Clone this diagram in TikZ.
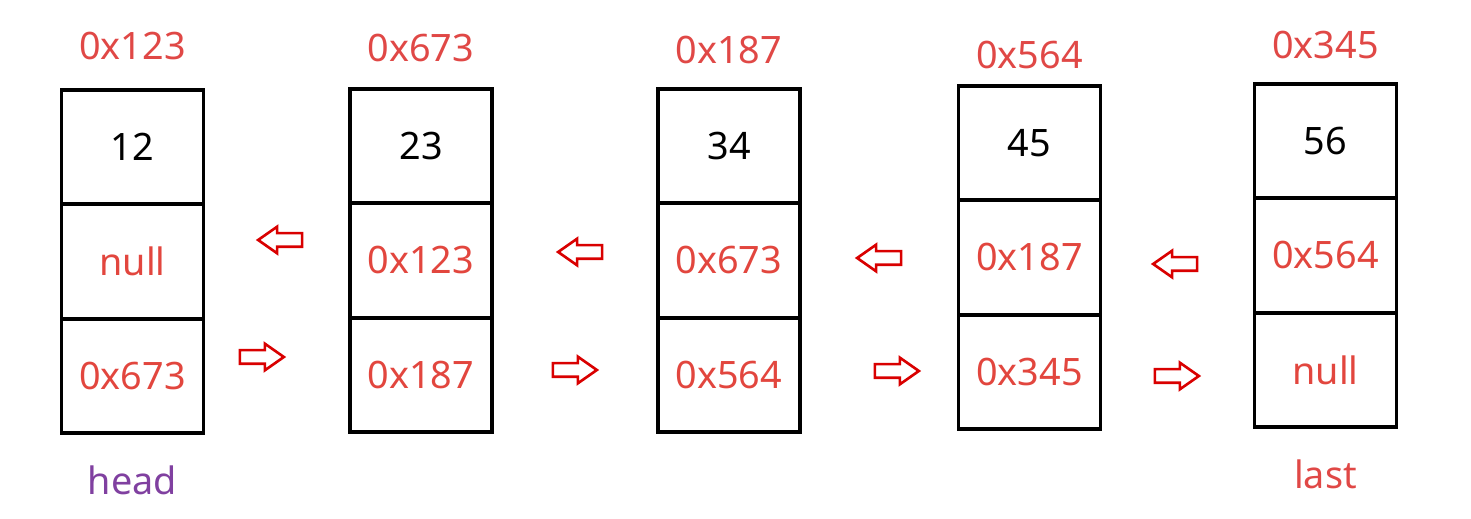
\documentclass[tikz,border=0pt]{standalone}
\usepackage{fontspec}
\setmainfont{Noto Sans}
\usepackage{xcolor}
\usetikzlibrary{shapes.arrows}
\definecolor{AddrRed}{HTML}{E04846}
\definecolor{CellRed}{HTML}{E2463E}
\definecolor{HeadPurple}{HTML}{8040A0}
\tikzset{
  llcell/.style={draw=black, line width=2pt, minimum width=2.84cm, minimum height=2.29cm, inner sep=0pt, font=\fontsize{21.5}{24}\selectfont},
  lladdr/.style={text=AddrRed, inner sep=0pt, font=\fontsize{21.5}{24}\selectfont},
  llfwd/.style={single arrow, draw=red!85!black, line width=1.5pt, fill=white, minimum height=0.88cm, single arrow head extend=0.13cm, single arrow tip angle=70, single arrow head indent=0pt, inner xsep=0pt, inner ysep=0.11cm},
  llback/.style={llfwd, shape border rotate=180}
}
\begin{document}
\begin{tikzpicture}[x=0.02cm,y=-0.02cm]
  \useasboundingbox (0,0) rectangle (1471,519);
  \foreach \i/\cx/\ytop/\ly/\addr/\val/\prv/\nxt in {1/132.5/90/46/0x123/12/null/0x673,2/421/89/48/0x673/23/0x123/0x187,3/729/89/50/0x187/34/0x673/0x564,4/1029.5/86/55/0x564/45/0x187/0x345,5/1325.5/84/45/0x345/56/0x564/null} {
    \node[lladdr] (a\i) at (\cx,\ly) {\addr};
    \node[llcell] (v\i) at (\cx,\ytop+57) {\val};
    \node[llcell, text=CellRed] (p\i) at (\cx,\ytop+171.5) {\prv};
    \node[llcell, text=CellRed] (n\i) at (\cx,\ytop+286) {\nxt};
  }
  \foreach \i/\lx/\ly/\rx/\ry in {1/285/240/257/357,2/585/252/570/370,3/884/258/892/371,4/1180/264/1172/376} {
    \node[llback] (l\i) at (\lx,\ly) {};
    \node[llfwd] (r\i) at (\rx,\ry) {};
  }
  \node[lladdr, text=HeadPurple, below=0.6cm] (head) at (n1.south) {head};
  \node[lladdr, below=0.6cm] (last) at (n5.south) {last};
\end{tikzpicture}
\end{document}
